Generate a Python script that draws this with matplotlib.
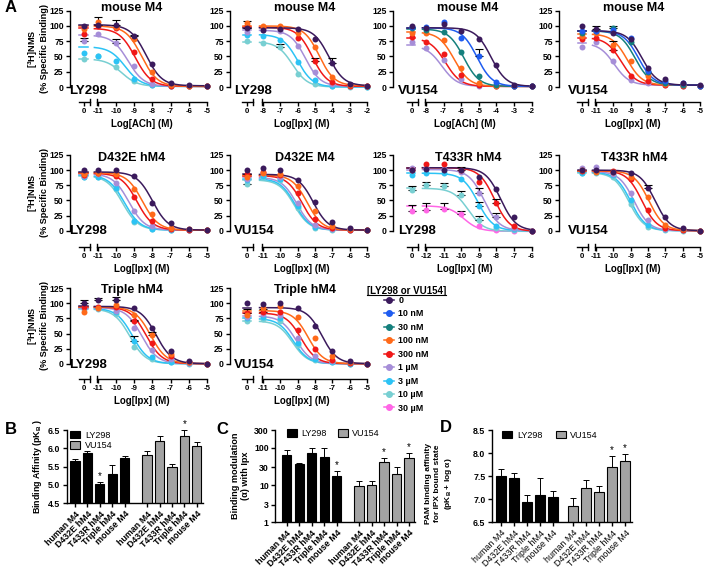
import numpy as np
import matplotlib
matplotlib.use('Agg')
import matplotlib.pyplot as plt
from matplotlib.lines import Line2D

plt.rcParams['font.family'] = ['Liberation Sans', 'DejaVu Sans']
plt.rcParams['font.weight'] = 'bold'
plt.rcParams['axes.labelweight'] = 'bold'
plt.rcParams['mathtext.fontset'] = 'custom'
plt.rcParams['mathtext.rm'] = 'Liberation Sans:bold'
plt.rcParams['mathtext.bf'] = 'Liberation Sans:bold'
plt.rcParams['mathtext.it'] = 'Liberation Sans:bold'
plt.rcParams['axes.unicode_minus'] = False
plt.rcParams['axes.linewidth'] = 1.0

W, H = 706, 569

# modulator concentrations shared by all binding panels
conc_labels = ['0', '10 nM', '30 nM', '100 nM', '300 nM', '1 µM', '3 µM', '10 µM', '30 µM']
conc_colors = ['#3b1a5c', '#1f5cf0', '#15807d', '#ff6a1a', '#f01818',
               '#a68ed8', '#2cc3f5', '#78cfd2', '#ff66e6']

# ---- panel A data: values are [control, lo, lo+1, ..., lo+6] ----
# fits are (top, bottom, logIC50), errs are (series, point, upper)
a1_keys = [0, 3, 4, 5, 6, 7]
a1_vals = [[100, 102, 101, 83, 38, 7, 4, 2],
           [95, 106, 98, 79, 25, 3, 2, 1],
           [87, 100, 96, 57, 13, 2, 1, 1],
           [75, 87, 72, 35, 5, 2, 1, 1],
           [55, 51, 43, 13, 4, 2, 1, 1],
           [46, 50, 33, 10, 3, 2, 1, 1]]
a1_fits = [(102, 2, -8.35), (100, 1, -8.6), (96, 1, -8.95),
           (85, 1, -9.35), (66, 1, -9.5), (46, 1, -9.7)]
a1_errs = [(0, 1, 115), (0, 2, 110), (3, 2, 78), (3, 0, 81), (0, 3, 86)]

a2_keys = [0, 3, 4, 5, 6, 7]
a2_vals = [[96, 94, 95, 95, 79, 40, 5, 2],
           [105, 100, 100, 88, 65, 17, 3, 2],
           [100, 98, 97, 80, 43, 8, 2, 1],
           [90, 93, 92, 67, 25, 5, 2, 1],
           [85, 84, 77, 41, 11, 2, 1, 0],
           [75, 72, 66, 21, 5, 1, 0, 0]]
a2_fits = [(97, 2, -4.2), (100, 2, -4.75), (98, 1, -5.15),
           (93, 1, -5.55), (86, 0, -6.0), (74, 0, -6.3)]
a2_errs = [(0, 0, 108), (5, 2, 71), (2, 4, 48), (0, 5, 48)]

a3_keys = [0, 1, 2, 3, 4, 5]
a3_vals = [[100, 96, 104, 92, 78, 36, 3, 1],
           [98, 98, 106, 80, 50, 8, 2, 1],
           [96, 94, 90, 58, 18, 3, 1, 1],
           [88, 88, 77, 31, 6, 2, 1, 1],
           [82, 73, 54, 20, 3, 2, 1, 1],
           [73, 64, 44, 13, 2, 1, 1, 1]]
a3_fits = [(97, 1, -4.3), (97, 1, -5.1), (95, 1, -5.85),
           (90, 1, -6.4), (80, 1, -6.9), (68, 1, -7.1)]
a3_errs = [(1, 4, 62)]

a4_keys = [0, 1, 2, 3, 4, 5]
a4_vals = [[100, 95, 89, 79, 31, 13, 7, 3],
           [92, 92, 93, 80, 26, 10, 6, 2],
           [88, 92, 97, 73, 24, 6, 3, 2],
           [83, 88, 69, 42, 18, 5, 3, 2],
           [78, 80, 61, 18, 10, 4, 2, 1],
           [65, 73, 42, 12, 6, 3, 2, 1]]
a4_fits = [(92, 3, -8.35), (92, 3, -8.55), (92, 3, -8.75),
           (87, 3, -9.2), (81, 3, -9.55), (72, 3, -9.95)]
a4_errs = [(0, 1, 100), (2, 2, 100), (4, 2, 76)]

a5_keys = [0, 3, 4, 5, 6, 7]
a5_vals = [[101, 101, 101, 91, 46, 12, 3, 1],
           [93, 96, 93, 69, 28, 5, 2, 1],
           [92, 95, 90, 55, 16, 3, 1, 1],
           [90, 94, 78, 33, 7, 2, 1, 1],
           [89, 89, 71, 16, 3, 1, 1, 1],
           [88, 88, 69, 15, 3, 1, 1, 1]]
a5_fits = [(97, 1, -8.0), (96, 1, -8.55), (95, 1, -8.85),
           (94, 1, -9.3), (92, 1, -9.55), (91, 1, -9.65)]
a5_errs = []

a6_keys = [0, 3, 4, 5, 6, 7]
a6_vals = [[101, 103, 100, 83, 47, 15, 5, 1],
           [88, 95, 94, 73, 33, 8, 2, 1],
           [93, 97, 92, 62, 20, 4, 1, 1],
           [86, 95, 88, 46, 9, 2, 1, 1],
           [84, 91, 86, 40, 6, 2, 1, 1],
           [77, 88, 84, 37, 5, 1, 1, 1]]
a6_fits = [(93, 1, -8.1), (92, 1, -8.45), (91, 1, -8.75),
           (88, 1, -9.05), (86, 1, -9.15), (84, 1, -9.2)]
a6_errs = [(5, 0, 93)]

a7_keys = [0, 4, 5, 6, 7, 8]
a7_vals = [[101, 102, 101, 101, 88, 69, 23, 0],
           [100, 110, 110, 101, 81, 45, 8, -1],
           [103, 103, 102, 97, 62, 23, 4, 0],
           [92, 96, 95, 85, 40, 8, 2, 0],
           [68, 75, 73, 59, 18, 4, 1, -1],
           [32, 34, 36, 27, 8, 1, 0, -1]]
a7_fits = [(104, 0, -7.75), (104, -1, -8.1), (101, 0, -8.7),
           (95, 0, -9.05), (70, -1, -9.6), (41, -1, -9.85)]
a7_errs = [(4, 0, 74), (4, 1, 80), (4, 2, 78), (4, 3, 66), (5, 0, 42),
           (5, 1, 45), (5, 2, 45), (5, 3, 33), (3, 4, 48), (4, 4, 25),
           (1, 5, 53), (2, 5, 30), (2, 4, 70), (0, 3, 105)]

a8_keys = [0, 3, 4, 5, 6, 7]
a8_vals = [[101, 100, 97, 96, 70, 23, 4, 0],
           [100, 97, 97, 89, 56, 9, 2, 0],
           [98, 99, 98, 85, 35, 5, 1, 0],
           [103, 105, 94, 63, 18, 3, 1, 0],
           [96, 97, 92, 51, 9, 2, 1, 0],
           [95, 96, 88, 44, 6, 1, 0, 0]]
a8_fits = [(100, 0, -7.6), (99, 0, -7.95), (99, 0, -8.35),
           (98, 0, -8.8), (97, 0, -9.0), (96, 0, -9.1)]
a8_errs = [(0, 4, 75)]

a9_keys = [0, 3, 4, 5, 6, 7]
a9_vals = [[101, 106, 106, 92, 60, 21, 4, 0],
           [85, 92, 97, 81, 47, 16, 2, 0],
           [94, 94, 94, 71, 34, 12, 2, 0],
           [92, 93, 87, 60, 23, 7, 1, 0],
           [92, 92, 85, 38, 11, 3, 1, 0],
           [90, 90, 82, 28, 8, 2, 0, 0]]
a9_fits = [(95, 0, -7.8), (94, 0, -8.1), (94, 0, -8.35),
           (93, 0, -8.6), (92, 0, -9.1), (91, 0, -9.25)]
a9_errs = [(0, 0, 106), (0, 1, 109), (0, 2, 110), (4, 3, 46), (2, 3, 73), (1, 4, 52)]

a10_keys = [0, 3, 4, 5, 6, 7]
a10_vals = [[101, 99, 101, 93, 62, 21, 4, 0],
            [81, 92, 95, 77, 42, 12, 2, 0],
            [84, 86, 86, 56, 25, 6, 1, 0],
            [78, 82, 80, 43, 13, 4, 1, 0],
            [75, 78, 75, 34, 8, 2, 0, 0],
            [70, 74, 71, 31, 6, 2, 0, 0]]
a10_fits = [(93, 0, -7.6), (88, 0, -8.4), (84, 0, -8.8),
            (79, 0, -9.1), (75, 0, -9.25), (71, 0, -9.3)]
a10_errs = [(2, 0, 91), (2, 1, 91)]

a_titles = ['mouse M4', 'mouse M4', 'mouse M4', 'mouse M4',
            'D432E hM4', 'D432E M4', 'T433R hM4', 'T433R hM4',
            'Triple hM4', 'Triple hM4']
a_mods = ['LY298', 'LY298', 'VU154', 'VU154', 'LY298', 'VU154',
          'LY298', 'VU154', 'LY298', 'VU154']
a_xlabels = ['Log[ACh] (M)', 'Log[Ipx] (M)', 'Log[ACh] (M)', 'Log[Ipx] (M)',
             'Log[Ipx] (M)', 'Log[Ipx] (M)', 'Log[Ipx] (M)', 'Log[Ipx] (M)',
             'Log[Ipx] (M)', 'Log[Ipx] (M)']
a_lo = [-11, -8, -8, -11, -11, -11, -12, -11, -11, -11]

# ---- panels B, C, D ----
receptors = ['human M4', 'D432E hM4', 'T433R hM4', 'Triple hM4', 'mouse M4']
b_ly = [5.65, 5.86, 5.04, 5.29, 5.74]
b_ly_err = [0.07, 0.07, 0.05, 0.26, 0.06]
b_vu = [5.83, 6.21, 5.50, 6.34, 6.07]
b_vu_err = [0.11, 0.12, 0.08, 0.16, 0.10]
b_star_ly = [2]
b_star_vu = [3]

c_ly = [66, 36, 73, 57, 18]
c_ly_err = [21, 4, 23, 39, 6]
c_vu = [9.4, 10, 42, 20, 52]
c_vu_err = [3.4, 2.8, 10, 10, 19]
c_star_ly = [4]
c_star_vu = [2, 4]

d_ly = [7.51, 7.45, 6.95, 7.09, 7.04]
d_ly_err = [0.14, 0.11, 0.14, 0.36, 0.14]
d_vu = [6.86, 7.25, 7.16, 7.69, 7.83]
d_vu_err = [0.16, 0.16, 0.13, 0.24, 0.16]
d_star_ly = []
d_star_vu = [3, 4]


def hill(x, top, bottom, logic50):
    return bottom + (top - bottom) / (1 + 10 ** (x - logic50))


def px_axes(fig, left, top, right, bottom):
    return fig.add_axes([left / W, 1 - bottom / H, (right - left) / W, (bottom - top) / H])


# pixel layout of the A grid: (y axis, control tick, first tick, last tick)
cols = [(70, 84, 98, 207), (230, 247, 263, 367), (393, 411.5, 426, 531.5), (559, 582, 596, 700)]
# (125 line, 0 line, x axis line)
rows = [(10.7, 87, 101.7), (155, 230.7, 246.7), (288.3, 363.7, 379)]
title_x = [132, 305, 468, 634]
title_y = [7.8, 158.3, 290.5]
mod_x = [69, 234, 398, 568]
mod_y = [90.5, 230.5, 364.5]


def dose_panel(fig, idx, keys, vals, fits, errs):
    row, col = divmod(idx, 4)
    yax, xc, xl, xh = cols[col]
    t125, t0, tax = rows[row]
    lo = a_lo[idx]
    hi = lo + 6
    dec = (xh - xl) / 6
    upp = 125 / (t0 - t125)
    ctrl = lo - (xl - xc) / dec
    ax = px_axes(fig, yax, t125 - 5, xh + 6, tax)
    ymin = -(tax - t0) * upp
    ax.set_xlim(lo - (xl - yax) / dec, hi + 6 / dec)
    ax.set_ylim(ymin, 125 + 5 * upp)

    xs = [ctrl] + list(range(lo, hi + 1))
    xfit = np.linspace(lo - 0.2, hi, 200)
    for k in reversed(range(len(keys))):
        c = conc_colors[keys[k]]
        top, bot, ic = fits[k]
        ax.plot(xfit, hill(xfit, top, bot, ic), color=c, lw=1.1, zorder=2)
        ax.plot([ctrl - 0.25, ctrl + 0.22], [top, top], color=c, lw=1.1, zorder=2)
    for s, p, up in errs:
        y = vals[s][p]
        ax.errorbar([xs[p]], [y], yerr=[[0], [up - y]], fmt='none', ecolor='black',
                    elinewidth=0.8, capsize=2.6, capthick=0.8, zorder=3)
    for k in reversed(range(len(keys))):
        c = conc_colors[keys[k]]
        ax.plot(xs, vals[k], 'o', color=c, ms=4.3, mew=0, zorder=4, clip_on=False)

    for sp in ['top', 'right']:
        ax.spines[sp].set_visible(False)
    ax.spines['left'].set_bounds(0, 125)
    ax.spines['bottom'].set_bounds(lo - 0.05, hi)
    ax.set_yticks([0, 25, 50, 75, 100, 125])
    ax.set_xticks(xs)
    ax.set_xticklabels(['0'] + [str(v) for v in range(lo, hi + 1)])
    ax.tick_params(axis='x', labelsize=5.6, length=3, width=1, pad=1.5)
    ax.tick_params(axis='y', labelsize=6.2, length=3, width=1, pad=1.5)
    # control segment of the broken axis plus the break marks
    ax.plot([ctrl - 4.7 / dec, ctrl + 6 / dec], [ymin, ymin], color='black', lw=1, clip_on=False)
    for bx in [ctrl + 6 / dec, lo - 0.05]:
        ax.plot([bx, bx], [ymin - 3 * upp, ymin + 3 * upp], color='black', lw=1, clip_on=False)
    ax.set_xlabel(a_xlabels[idx], fontsize=7, labelpad=3)

    fig.text(title_x[col] / W, 1 - title_y[row] / H, a_titles[idx], fontsize=9,
             ha='center', va='center')
    fig.text(mod_x[col] / W, 1 - mod_y[row] / H, a_mods[idx], fontsize=9.5,
             ha='left', va='center')
    if col == 0:
        fig.text(38 / W, 1 - (t125 + t0) / 2 / H, '[$^{3}$H]NMS\n(% Specific Binding)',
                 rotation=90, fontsize=6.6, ha='center', va='center', linespacing=1.0)
    return ax


def bar_panel(ax, pos_ly, pos_vu, ly, ly_err, vu, vu_err, st_ly, st_vu, star_pad,
              label_weight='bold'):
    ax.bar(pos_ly, ly, width=0.74, color='black', edgecolor='black', lw=0.8, label='LY298')
    ax.bar(pos_vu, vu, width=0.74, color='#a3a3a3', edgecolor='black', lw=0.8, label='VU154')
    for pos, v, e in [(pos_ly, ly, ly_err), (pos_vu, vu, vu_err)]:
        ax.errorbar(pos, v, yerr=[np.zeros(len(e)), e], fmt='none', ecolor='black',
                    elinewidth=0.7, capsize=2, capthick=0.7)
    for pos, v, e, st in [(pos_ly, ly, ly_err, st_ly), (pos_vu, vu, vu_err, st_vu)]:
        for i in st:
            ax.text(pos[i], star_pad(v[i] + e[i]), '*', ha='center', va='bottom', fontsize=7,
                    fontweight='normal')
    for sp in ['top', 'right']:
        ax.spines[sp].set_visible(False)
    ax.set_xticks(list(pos_ly) + list(pos_vu))
    ax.set_xticklabels(receptors + receptors, rotation=45, ha='right',
                       rotation_mode='anchor', fontsize=6.4, fontweight=label_weight)
    ax.tick_params(axis='x', length=3, width=1, pad=1.5)
    ax.tick_params(axis='y', length=3, width=1, pad=1.5, labelsize=6.3)


fig = plt.figure(figsize=(W / 100, H / 100), dpi=100)

panels = [(a1_keys, a1_vals, a1_fits, a1_errs), (a2_keys, a2_vals, a2_fits, a2_errs),
          (a3_keys, a3_vals, a3_fits, a3_errs), (a4_keys, a4_vals, a4_fits, a4_errs),
          (a5_keys, a5_vals, a5_fits, a5_errs), (a6_keys, a6_vals, a6_fits, a6_errs),
          (a7_keys, a7_vals, a7_fits, a7_errs), (a8_keys, a8_vals, a8_fits, a8_errs),
          (a9_keys, a9_vals, a9_fits, a9_errs), (a10_keys, a10_vals, a10_fits, a10_errs)]
for i, (k, v, f, e) in enumerate(panels):
    dose_panel(fig, i, k, v, f, e)

# legend for the concentration series
handles = [Line2D([], [], color=c, marker='o', ms=4, lw=1.1) for c in conc_colors]
fig.legend(handles, conc_labels, loc='upper left', bbox_to_anchor=(384 / W, 1 - 296 / H),
           frameon=False, fontsize=6.4, handlelength=1.1, handletextpad=0.5,
           labelspacing=0.5, borderpad=0, borderaxespad=0)
leg_title = fig.text(367 / W, 1 - 291 / H, '[LY298 or VU154]', fontsize=7, ha='left', va='center')

# B
axb = px_axes(fig, 66.7, 430, 203, 503.3)
pos1 = np.arange(5)
pos2 = np.arange(5) + 5.8
bar_panel(axb, pos1, pos2, b_ly, b_ly_err, b_vu, b_vu_err, b_star_ly, b_star_vu,
          lambda y: y + 0.02)
axb.set_ylim(4.5, 6.5)
axb.set_xlim(-0.67, 10.3)
axb.set_yticks([4.5, 5.0, 5.5, 6.0, 6.5])
axb.set_ylabel('Binding Affinity (pK$_B$ )', fontsize=6.4, labelpad=3)
axb.legend(loc='upper left', bbox_to_anchor=(0.0, 1.04), frameon=False,
           prop={'weight': 'normal', 'size': 6.5}, handlelength=1.1, handleheight=0.9,
           labelspacing=0.15, handletextpad=0.5, borderaxespad=0)

# C
axc = px_axes(fig, 275, 430, 415, 522.3)
bar_panel(axc, pos1, pos2, c_ly, c_ly_err, c_vu, c_vu_err, c_star_ly, c_star_vu,
          lambda y: y * 1.05)
axc.set_yscale('log')
axc.set_ylim(1, 300)
axc.set_xlim(-0.94, 10.28)
axc.set_yticks([1, 3, 10, 30, 100, 300])
axc.set_yticklabels(['1', '3', '10', '30', '100', '300'])
axc.minorticks_off()
axc.set_ylabel('Binding modulation\n(α) with Ipx', fontsize=6.6, labelpad=3, linespacing=1.15)
axc.legend(loc='upper left', bbox_to_anchor=(0.06, 1.05), ncol=2, frameon=False,
           prop={'weight': 'normal', 'size': 6.5}, handlelength=1.1, handleheight=0.9,
           columnspacing=1.2, handletextpad=0.5, borderaxespad=0)

# D
axd = px_axes(fig, 491.7, 430, 631.7, 522.3)
pos2d = np.arange(5) + 5.55
bar_panel(axd, pos1, pos2d, d_ly, d_ly_err, d_vu, d_vu_err, d_star_ly, d_star_vu,
          lambda y: y + 0.02, label_weight='normal')
axd.set_ylim(6.5, 8.5)
axd.set_xlim(-0.73, 10.05)
axd.set_yticks([6.5, 7.0, 7.5, 8.0, 8.5])
axd.set_ylabel('PAM binding affinity\nfor IPX bound state\n(pK$_B$ + log α)', fontsize=6.0,
               labelpad=4, linespacing=1.3)
axd.yaxis.set_label_coords(-0.27, 0.42)
axd.legend(loc='upper left', bbox_to_anchor=(0.05, 1.03), ncol=2, frameon=False,
           prop={'weight': 'normal', 'size': 6.5}, handlelength=1.1, handleheight=0.9,
           columnspacing=1.5, handletextpad=0.5, borderaxespad=0)

for letter, x, y in [('A', 5, 8), ('B', 5, 430), ('C', 216, 430), ('D', 440, 427)]:
    fig.text(x / W, 1 - y / H, letter, fontsize=12, ha='left', va='center')

# underline the legend title
fig.canvas.draw()
bb = leg_title.get_window_extent().transformed(fig.transFigure.inverted())
fig.add_artist(Line2D([bb.x0, bb.x1], [bb.y0 + 0.002, bb.y0 + 0.002], color='black', lw=0.8,
                      transform=fig.transFigure))

fig.savefig('out.png', dpi=100)
